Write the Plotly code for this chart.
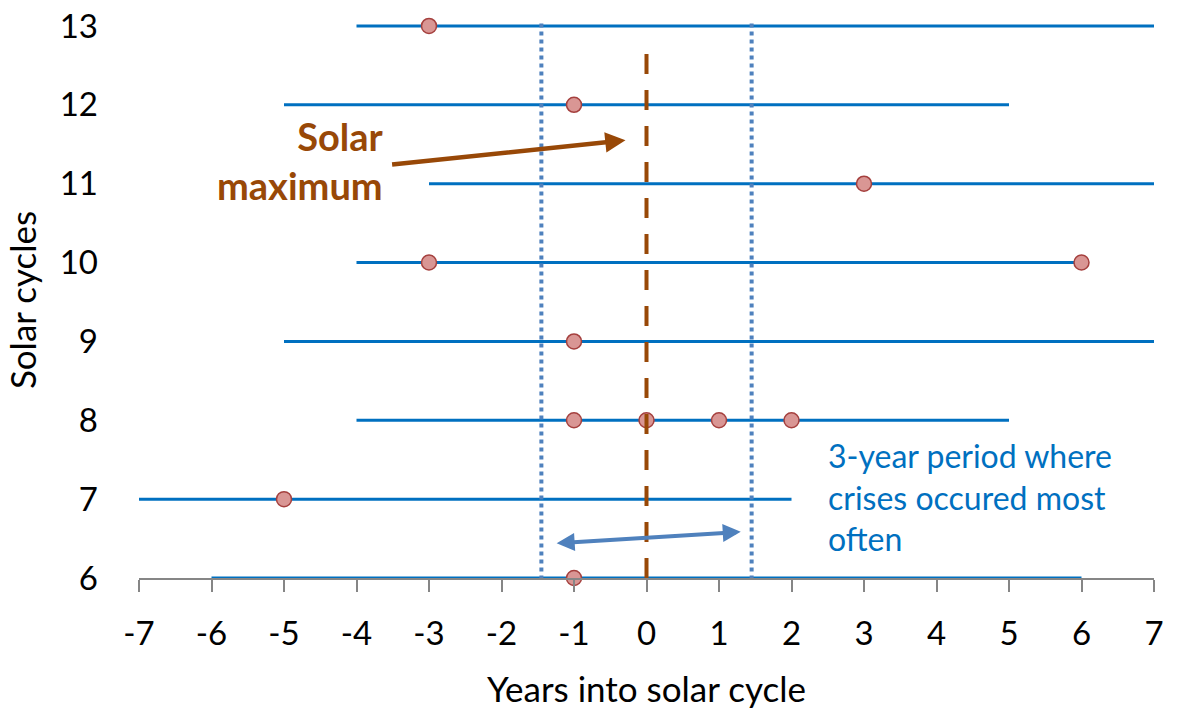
import plotly.graph_objects as go

# solar cycles and the span of each one (years relative to solar maximum)
cycles = [13, 12, 11, 10, 9, 8, 7, 6]
span_start = [-4, -5, -3, -4, -5, -4, -7, -6]
span_end = [7, 5, 7, 6, 7, 5, 2, 6]

# crises: year into cycle and cycle number
crisis_year = [-3, -1, 3, -3, 6, -1, -1, 0, 1, 2, -5, -1]
crisis_cycle = [13, 12, 11, 10, 10, 9, 8, 8, 8, 8, 7, 6]

window = [-1.45, 1.45]
x_ticks = list(range(-7, 8))
x_labels = [str(v) for v in x_ticks]  # plain hyphen, not unicode minus

FONT = "Lato"
BLUE = "#0070C0"
LIGHT_BLUE = "#4F81BD"
BROWN = "#984807"

fig = go.Figure()

## cycle spans
for c, s, e in zip(cycles, span_start, span_end):
    fig.add_trace(go.Scatter(x=[s, e], y=[c, c], mode='lines',
                             line=dict(color=BLUE, width=3),
                             hoverinfo='skip', cliponaxis=False))

## crisis points
fig.add_trace(go.Scatter(x=crisis_year, y=crisis_cycle, mode='markers',
                         marker=dict(size=15, color='#D99694',
                                     line=dict(color='#A5403E', width=1.5)),
                         cliponaxis=False))

## 3-year window (dotted) and solar maximum (dashed)
for w in window:
    fig.add_shape(type='line', x0=w, x1=w, y0=5.98, y1=13.05,
                  line=dict(color=LIGHT_BLUE, width=4, dash='dot'))
fig.add_shape(type='line', x0=0, x1=0, y0=6, y1=12.82,
              line=dict(color=BROWN, width=4, dash='20px,16px'))

## annotations
fig.add_annotation(x=-0.29, y=11.55, ax=-3.53, ay=11.24, axref='x', ayref='y',
                   text='', showarrow=True, arrowhead=2, arrowsize=0.9,
                   arrowwidth=4.5, arrowcolor=BROWN)
fig.add_annotation(x=-3.6, y=11.3, text='Solar<br>maximum', showarrow=False,
                   xanchor='right', align='right',
                   font=dict(family=FONT, size=38, color=BROWN, weight='bold'))

fig.add_annotation(x=1.3, y=6.585, ax=-1.26, ay=6.44, axref='x', ayref='y',
                   text='', showarrow=True, arrowhead=2, arrowsize=0.9,
                   arrowside='end+start', arrowwidth=4, arrowcolor=LIGHT_BLUE)
fig.add_annotation(x=2.48, y=7.03,
                   text='3-year period where<br>crises occured most<br>often',
                   showarrow=False, xanchor='left', align='left',
                   font=dict(family=FONT, size=32, color=BLUE))

fig.update_layout(
    width=1178, height=713,
    margin=dict(l=139, r=24, t=22, b=135, autoexpand=False),
    plot_bgcolor='white', paper_bgcolor='white',
    showlegend=False,
    font=dict(family=FONT, color='black'),
)
fig.update_xaxes(range=[-7, 7], tickvals=x_ticks, ticktext=x_labels,
                 showgrid=False, zeroline=False,
                 showline=True, linecolor='#868686', linewidth=1.5,
                 ticks='outside', ticklen=12, tickcolor='#868686', tickwidth=1.5,
                 ticklabelstandoff=14, ticklabeloverflow='allow',
                 tickfont=dict(size=33),
                 title=dict(text='Years into solar cycle', font=dict(size=35), standoff=26))
fig.update_yaxes(range=[6, 13.05], tickvals=cycles, showgrid=False, zeroline=False,
                 showline=False, ticklabelstandoff=40, ticklabeloverflow='allow',
                 tickfont=dict(size=33),
                 title=dict(text='Solar cycles', font=dict(size=35), standoff=12))

# drop the default 8px page margin so the figure fills the window exactly
fig.write_html("out.html", config={'displayModeBar': False},
               post_script="document.body.style.margin='0';")
